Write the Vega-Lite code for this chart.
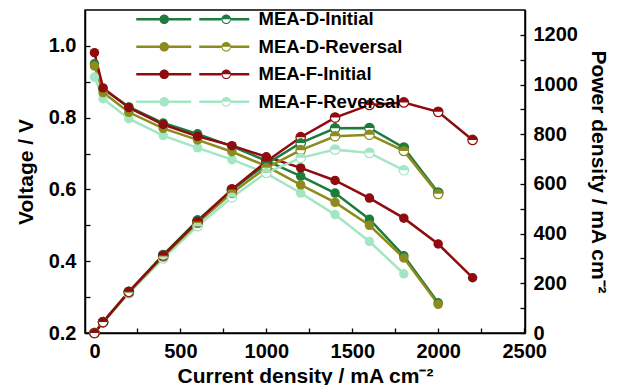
{
  "$schema": "https://vega.github.io/schema/vega-lite/v6.json",
  "width": 440,
  "height": 323,
  "autosize": {"type": "none"},
  "padding": {"left": 85, "top": 10, "right": 92, "bottom": 52},
  "background": "white",
  "config": {
    "view": {"stroke": "black", "strokeWidth": 1.5},
    "font": "Liberation Sans"
  },
  "data": {
    "values": [
      {"series": "MEA-F-Reversal", "current": 0, "voltage": 0.913, "power": 0},
      {"series": "MEA-F-Reversal", "current": 50, "voltage": 0.853, "power": 43},
      {"series": "MEA-F-Reversal", "current": 200, "voltage": 0.797, "power": 159},
      {"series": "MEA-F-Reversal", "current": 400, "voltage": 0.75, "power": 300},
      {"series": "MEA-F-Reversal", "current": 600, "voltage": 0.716, "power": 430},
      {"series": "MEA-F-Reversal", "current": 800, "voltage": 0.683, "power": 546},
      {"series": "MEA-F-Reversal", "current": 1000, "voltage": 0.645, "power": 645},
      {"series": "MEA-F-Reversal", "current": 1200, "voltage": 0.59, "power": 705},
      {"series": "MEA-F-Reversal", "current": 1400, "voltage": 0.53, "power": 738},
      {"series": "MEA-F-Reversal", "current": 1600, "voltage": 0.455, "power": 725},
      {"series": "MEA-F-Reversal", "current": 1800, "voltage": 0.365, "power": 655},
      {"series": "MEA-D-Initial", "current": 0, "voltage": 0.95, "power": 0},
      {"series": "MEA-D-Initial", "current": 50, "voltage": 0.88, "power": 44},
      {"series": "MEA-D-Initial", "current": 200, "voltage": 0.83, "power": 166},
      {"series": "MEA-D-Initial", "current": 400, "voltage": 0.785, "power": 314},
      {"series": "MEA-D-Initial", "current": 600, "voltage": 0.755, "power": 453},
      {"series": "MEA-D-Initial", "current": 800, "voltage": 0.72, "power": 576},
      {"series": "MEA-D-Initial", "current": 1000, "voltage": 0.68, "power": 680},
      {"series": "MEA-D-Initial", "current": 1200, "voltage": 0.637, "power": 765},
      {"series": "MEA-D-Initial", "current": 1400, "voltage": 0.59, "power": 824},
      {"series": "MEA-D-Initial", "current": 1600, "voltage": 0.517, "power": 825},
      {"series": "MEA-D-Initial", "current": 1800, "voltage": 0.415, "power": 746},
      {"series": "MEA-D-Initial", "current": 2000, "voltage": 0.284, "power": 565},
      {"series": "MEA-D-Reversal", "current": 0, "voltage": 0.944, "power": 0},
      {"series": "MEA-D-Reversal", "current": 50, "voltage": 0.87, "power": 44},
      {"series": "MEA-D-Reversal", "current": 200, "voltage": 0.815, "power": 163},
      {"series": "MEA-D-Reversal", "current": 400, "voltage": 0.77, "power": 308},
      {"series": "MEA-D-Reversal", "current": 600, "voltage": 0.738, "power": 443},
      {"series": "MEA-D-Reversal", "current": 800, "voltage": 0.705, "power": 564},
      {"series": "MEA-D-Reversal", "current": 1000, "voltage": 0.665, "power": 665},
      {"series": "MEA-D-Reversal", "current": 1200, "voltage": 0.613, "power": 736},
      {"series": "MEA-D-Reversal", "current": 1400, "voltage": 0.564, "power": 792},
      {"series": "MEA-D-Reversal", "current": 1600, "voltage": 0.5, "power": 798},
      {"series": "MEA-D-Reversal", "current": 1800, "voltage": 0.409, "power": 733},
      {"series": "MEA-D-Reversal", "current": 2000, "voltage": 0.28, "power": 560},
      {"series": "MEA-F-Initial", "current": 0, "voltage": 0.981, "power": 0},
      {"series": "MEA-F-Initial", "current": 50, "voltage": 0.883, "power": 44},
      {"series": "MEA-F-Initial", "current": 200, "voltage": 0.828, "power": 166},
      {"series": "MEA-F-Initial", "current": 400, "voltage": 0.781, "power": 312},
      {"series": "MEA-F-Initial", "current": 600, "voltage": 0.748, "power": 449},
      {"series": "MEA-F-Initial", "current": 800, "voltage": 0.722, "power": 578},
      {"series": "MEA-F-Initial", "current": 1000, "voltage": 0.691, "power": 690},
      {"series": "MEA-F-Initial", "current": 1200, "voltage": 0.66, "power": 788},
      {"series": "MEA-F-Initial", "current": 1400, "voltage": 0.625, "power": 867},
      {"series": "MEA-F-Initial", "current": 1600, "voltage": 0.576, "power": 918},
      {"series": "MEA-F-Initial", "current": 1800, "voltage": 0.52, "power": 928},
      {"series": "MEA-F-Initial", "current": 2000, "voltage": 0.448, "power": 890},
      {"series": "MEA-F-Initial", "current": 2200, "voltage": 0.354, "power": 777}
    ]
  },
  "encoding": {
    "x": {
      "field": "current",
      "type": "quantitative",
      "scale": {"domain": [-55, 2505], "nice": false, "zero": false},
      "axis": {
        "title": "Current density / mA cm⁻²",
        "values": [0, 250, 500, 750, 1000, 1250, 1500, 1750, 2000, 2250, 2500],
        "labelExpr": "datum.value % 500 == 0 ? format(datum.value, 'd') : ''",
        "grid": false,
        "tickSize": -5,
        "tickColor": "black",
        "tickWidth": 1.3,
        "domainColor": "black",
        "domainWidth": 1.5,
        "labelPadding": 13,
        "labelFont": "Liberation Sans",
        "labelFontWeight": "bold",
        "labelFontSize": 20,
        "labelColor": "black",
        "labelFlush": false,
        "labelOverlap": false,
        "titleFont": "Liberation Sans",
        "titleFontWeight": "bold",
        "titleFontSize": 21,
        "titleColor": "black",
        "titlePadding": 4
      }
    }
  },
  "layer": [
    {
      "encoding": {
        "y": {
          "field": "voltage",
          "type": "quantitative",
          "scale": {"domain": [0.2, 1.1], "nice": false, "zero": false},
          "axis": {
            "title": "Voltage / V",
            "orient": "left",
            "values": [0.2, 0.3, 0.4, 0.5, 0.6, 0.7, 0.8, 0.9, 1.0],
            "labelExpr": "indexof(['0.2','0.4','0.6','0.8','1.0'], format(datum.value, '.1f')) >= 0 ? format(datum.value, '.1f') : ''",
            "grid": false,
            "tickSize": -5,
            "tickColor": "black",
            "tickWidth": 1.3,
            "domainColor": "black",
            "domainWidth": 1.5,
            "labelPadding": 14,
            "labelFont": "Liberation Sans",
            "labelFontWeight": "bold",
            "labelFontSize": 20,
            "labelColor": "black",
            "labelFlush": false,
            "labelOverlap": false,
            "titleFont": "Liberation Sans",
            "titleFontWeight": "bold",
            "titleFontSize": 21,
            "titleColor": "black",
            "titlePadding": 12
          }
        }
      },
      "layer": [
        {
          "mark": {"type": "line", "strokeWidth": 2.5},
          "encoding": {
            "stroke": {
              "field": "series",
              "type": "nominal",
              "scale": {"range": ["#1e7b3e", "#8c8b1e", "#8e0b0e", "#a2e6c4"]},
              "legend": null
            }
          }
        },
        {
          "mark": {"type": "circle", "size": 90, "opacity": 1},
          "encoding": {
            "fill": {
              "field": "series",
              "type": "nominal",
              "scale": {
                "domain": ["MEA-D-Initial", "MEA-D-Reversal", "MEA-F-Initial", "MEA-F-Reversal"],
                "range": ["#1e7b3e", "#8c8b1e", "#8e0b0e", "#a2e6c4"]
              },
              "legend": {
                "title": null,
                "orient": "none",
                "legendX": 42,
                "legendY": 0,
                "padding": 0,
                "rowPadding": 8.5,
                "symbolType": "M0,-1.3H23.5V1.3H0Z M32.5,-1.3H55V1.3H32.5Z M23.2,0A4.8,4.8 0 1,1 32.8,0A4.8,4.8 0 1,1 23.2,0Z M63,-1.3H85.5V1.3H63Z M94.5,-1.3H113V1.3H94.5Z M85.2,0A4.8,4.8 0 0,1 94.8,0Z M85.2,0A4.8,4.8 0 0,0 94.8,0H93.8A3.8,3.8 0 0,1 86.2,0Z",
                "symbolSize": 4,
                "symbolStrokeWidth": 0,
                "symbolOpacity": 1,
                "labelOffset": 113,
                "labelFont": "Liberation Sans",
                "labelFontWeight": "bold",
                "labelFontSize": 18.5,
                "labelColor": "black",
                "labelLimit": 300
              }
            }
          }
        }
      ]
    },
    {
      "encoding": {
        "y": {
          "field": "power",
          "type": "quantitative",
          "scale": {"domain": [0, 1300], "nice": false, "zero": false},
          "axis": {
            "title": "Power density / mA cm⁻²",
            "orient": "right",
            "values": [0, 100, 200, 300, 400, 500, 600, 700, 800, 900, 1000, 1100, 1200],
            "labelExpr": "datum.value % 200 == 0 ? format(datum.value, 'd') : ''",
            "grid": false,
            "tickSize": -5,
            "tickColor": "black",
            "tickWidth": 1.3,
            "domainColor": "black",
            "domainWidth": 1.5,
            "labelPadding": 13,
            "labelFont": "Liberation Sans",
            "labelFontWeight": "bold",
            "labelFontSize": 20,
            "labelColor": "black",
            "labelFlush": false,
            "labelOverlap": false,
            "titleFont": "Liberation Sans",
            "titleFontWeight": "bold",
            "titleFontSize": 21,
            "titleColor": "black",
            "titlePadding": 10
          }
        }
      },
      "layer": [
        {
          "mark": {"type": "line", "strokeWidth": 2.5},
          "encoding": {
            "stroke": {
              "field": "series",
              "type": "nominal",
              "scale": {"range": ["#1e7b3e", "#8c8b1e", "#8e0b0e", "#a2e6c4"]},
              "legend": null
            }
          }
        },
        {
          "mark": {"type": "circle", "size": 90, "opacity": 1, "fill": "white", "filled": false, "strokeWidth": 1.2},
          "encoding": {
            "stroke": {
              "field": "series",
              "type": "nominal",
              "scale": {"range": ["#1e7b3e", "#8c8b1e", "#8e0b0e", "#a2e6c4"]},
              "legend": null
            }
          }
        },
        {
          "mark": {"type": "point", "shape": "M-1,0A1,1 0 0,1 1,0Z", "filled": true, "size": 90, "opacity": 1, "strokeWidth": 0},
          "encoding": {
            "color": {
              "field": "series",
              "type": "nominal",
              "scale": {"range": ["#1e7b3e", "#8c8b1e", "#8e0b0e", "#a2e6c4"]},
              "legend": null
            }
          }
        }
      ]
    }
  ],
  "resolve": {"scale": {"y": "independent"}}
}
